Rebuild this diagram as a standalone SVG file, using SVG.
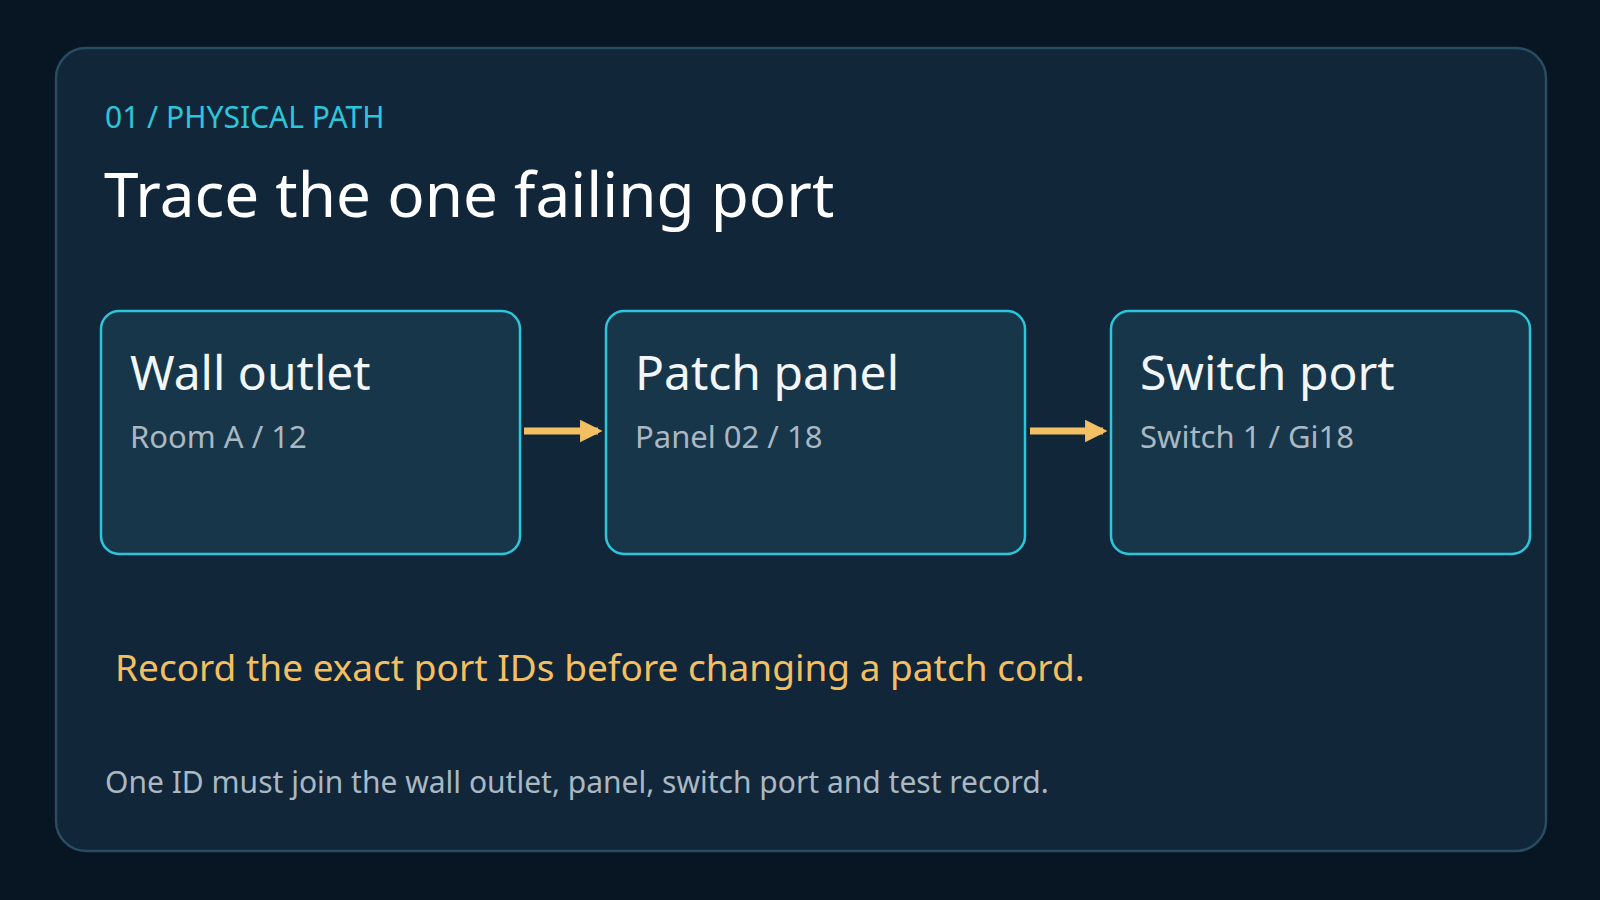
<svg xmlns="http://www.w3.org/2000/svg" width="1600" height="900" viewBox="0 0 1600 900">
<defs>
<style>
text{font-family:"Noto Sans","Liberation Sans",sans-serif}
.box{fill:#17364a;stroke:#2cc6da;stroke-width:2.5}
.nt{fill:#f2f6f8;font-size:48px}
.ns{fill:#a9b8c2;font-size:31px}
.ar{stroke:#f2c062;stroke-width:7;fill:none}
</style>
<marker id="ah" viewBox="0 0 10 10" refX="8" refY="5" markerWidth="3.2" markerHeight="3.6" orient="auto" markerUnits="strokeWidth"><path d="M0,0L10,5L0,10z" fill="#f2c062"/></marker>
</defs>
<rect width="1600" height="900" fill="#081522"/>
<rect x="56" y="48" width="1490" height="803" rx="30" fill="#12263a" stroke="#284c60" stroke-width="2.5"/>
<text x="105" y="128" fill="#2cc6da" font-size="30">01 / PHYSICAL PATH</text>
<text x="104" y="217" fill="#ffffff" font-size="62">Trace the one failing port</text>
<g id="connectors">
<line class="ar" x1="524" y1="431" x2="598" y2="431" marker-end="url(#ah)"/>
<line class="ar" x1="1030" y1="431" x2="1103" y2="431" marker-end="url(#ah)"/>
</g>
<g id="n1"><rect class="box" x="101" y="311" width="419" height="243" rx="18"/><text class="nt" x="130" y="390">Wall outlet</text><text class="ns" x="130" y="448">Room A / 12</text></g>
<g id="n2"><rect class="box" x="606" y="311" width="419" height="243" rx="18"/><text class="nt" x="635" y="390">Patch panel</text><text class="ns" x="635" y="448">Panel 02 / 18</text></g>
<g id="n3"><rect class="box" x="1111" y="311" width="419" height="243" rx="18"/><text class="nt" x="1140" y="390">Switch port</text><text class="ns" x="1140" y="448">Switch 1 / Gi18</text></g>
<text x="115" y="681" fill="#f2c062" font-size="37">Record the exact port IDs before changing a patch cord.</text>
<text x="105" y="793" fill="#a9b8c2" font-size="30">One ID must join the wall outlet, panel, switch port and test record.</text>
</svg>
